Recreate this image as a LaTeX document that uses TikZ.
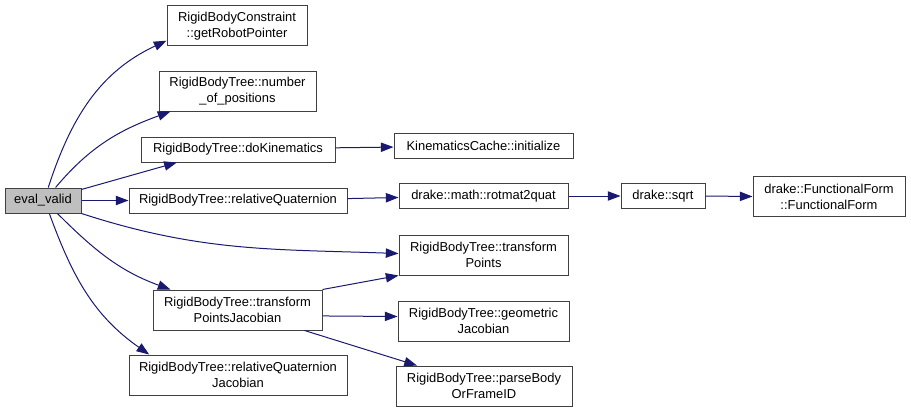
\documentclass[tikz,border=0pt]{standalone}
\usepackage{fontspec}
\setmainfont{Liberation Sans}
\usetikzlibrary{arrows.meta}
\definecolor{edgeblue}{HTML}{191970}
\definecolor{boxgray}{HTML}{BFBFBF}

\begin{document}
\begin{tikzpicture}[x=0.75pt, y=0.75pt, >={Triangle[length=9.5pt, width=7pt]},
  fn/.style={draw=black!75, line width=0.75pt, align=center, inner sep=0pt,
    font=\fontsize{9.7}{12}\selectfont},
  one/.style={minimum height=18.75pt},
  two/.style={minimum height=30pt},
  call/.style={->, draw=edgeblue, fill=none, line width=0.75pt}]
\useasboundingbox (0,0) rectangle (911,-412);

% caller
\node[fn, one, fill=boxgray, minimum width=57pt] (ev) at (43,-200.5) {eval\_valid};

% first column
\node[fn, two, minimum width=105pt] (grp) at (237,-25.7) {RigidBodyConstraint\\::getRobotPointer};
\node[fn, two, minimum width=117.75pt] (nop) at (237.5,-91) {RigidBodyTree::number\\\_of\_positions};
\node[fn, one, minimum width=145.5pt] (dok) at (238,-149.5) {RigidBodyTree::doKinematics};
\node[fn, one, minimum width=163.5pt] (rq) at (238,-200.5) {RigidBodyTree::relativeQuaternion};
\node[fn, two, minimum width=126.75pt] (tpj) at (237.5,-310) {RigidBodyTree::transform\\PointsJacobian};
\node[fn, two, minimum width=163.5pt] (rqj) at (238,-375) {RigidBodyTree::relativeQuaternion\\Jacobian};

% second column
\node[fn, one, minimum width=134.25pt] (kci) at (483.5,-145.5) {KinematicsCache::initialize};
\node[fn, one, minimum width=126.75pt] (r2q) at (483.5,-196) {drake::math::rotmat2quat};
\node[fn, two, minimum width=126.75pt] (tp) at (483.5,-255) {RigidBodyTree::transform\\Points};
\node[fn, two, minimum width=128.25pt] (gj) at (483.5,-321) {RigidBodyTree::geometric\\Jacobian};
\node[fn, two, minimum width=132pt] (pb) at (484,-386) {RigidBodyTree::parseBody\\OrFrameID};

% rest of the chain
\node[fn, one, minimum width=63pt] (sqrt) at (663,-196) {drake::sqrt};
\node[fn, two, minimum width=114pt] (ff) at (829,-196.5) {drake::FunctionalForm\\::FunctionalForm};

% calls from eval_valid
\draw[call] (ev.68) to[out=72, in=205] (grp.192);
\draw[call] (ev.46) to[out=50, in=200] (nop.197);
\draw[call] (ev.16) -- (dok.192);
\draw[call] (ev.east) -- (rq.west);
\draw[call] (ev.south east) to[out=-18, in=178] (tp.179);
\draw[call] (ev.-42) to[out=-45, in=160] (tpj.163);
\draw[call] (ev.-64) to[out=-70, in=145] (rqj.167);

% further calls
\draw[call] (dok.1) -- (kci.181.6);
\draw[call] (rq.1) -- (r2q.181.4);
\draw[call] (r2q.east) -- (sqrt.west);
\draw[call] (sqrt.east) -- (ff.west);
\draw[call] (tpj.north east) -- (tp.south west);
\draw[call] (tpj.-4) -- (gj.177);
\draw[call] (tpj.-17) -- (pb.163);
\end{tikzpicture}
\end{document}
